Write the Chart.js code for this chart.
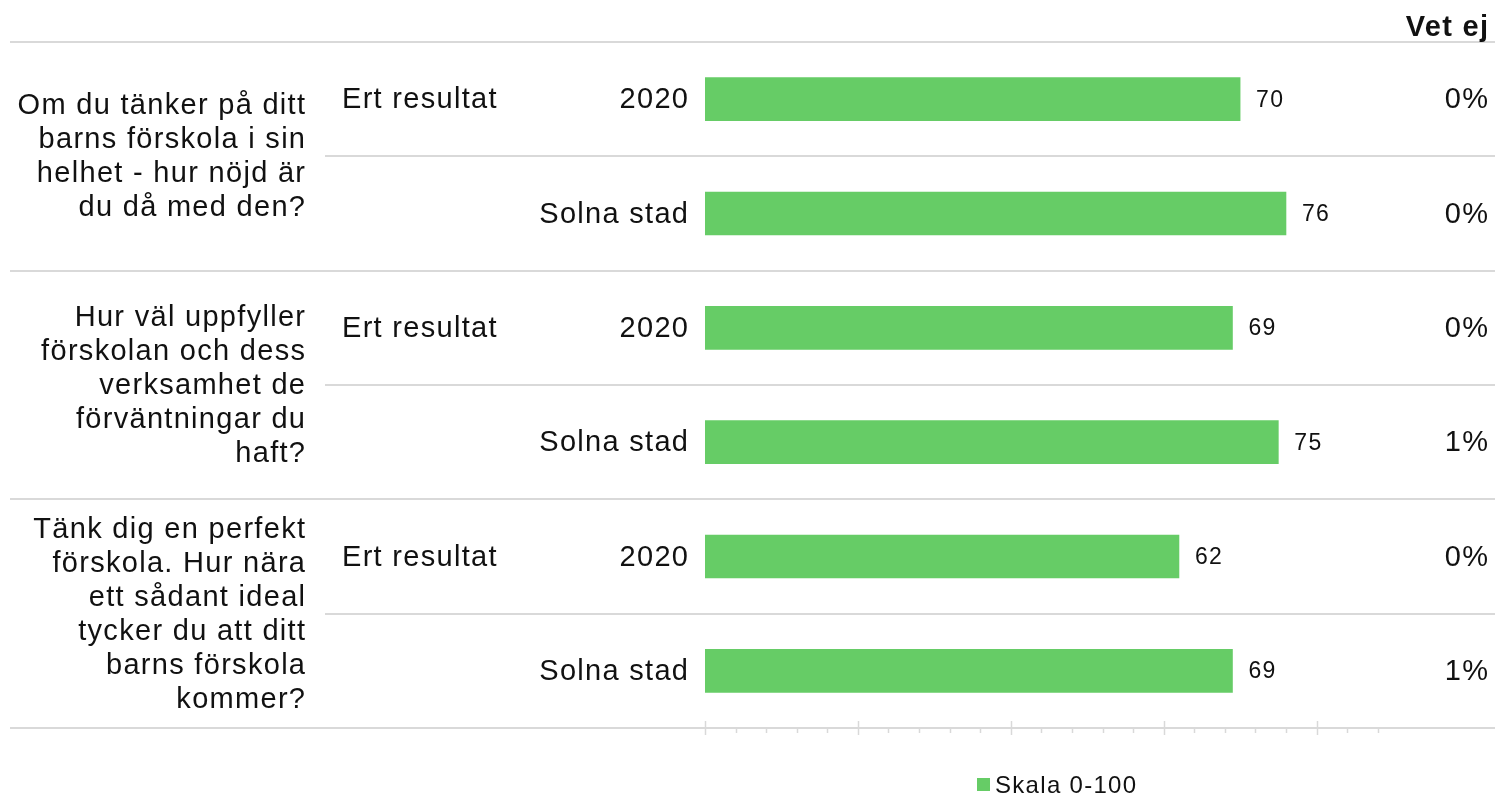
<!DOCTYPE html>
<html>
<head>
<meta charset="utf-8">
<script src="https://cdn.jsdelivr.net/npm/chart.js@4/dist/chart.umd.min.js"></script>
<style>
  html, body { margin: 0; padding: 0; background: #fff; }
  #wrap { width: 1495px; height: 793px; position: relative; }
</style>
</head>
<body>
<div id="wrap"><canvas id="chart"></canvas></div>
<script>
// Data
const questionLines = [
    ['Om du tänker på ditt', 'barns förskola i sin', 'helhet - hur nöjd är', 'du då med den?'],
    ['Hur väl uppfyller', 'förskolan och dess', 'verksamhet de', 'förväntningar du', 'haft?'],
    ['Tänk dig en perfekt', 'förskola. Hur nära', 'ett sådant ideal', 'tycker du att ditt', 'barns förskola', 'kommer?']
];
const groupLabel = 'Ert resultat';
const rowLabels = ['2020', 'Solna stad', '2020', 'Solna stad', '2020', 'Solna stad'];
const scores = [70, 76, 69, 75, 62, 69];
const vetEj = ['0%', '0%', '0%', '1%', '0%', '1%'];
const seriesName = 'Skala 0-100';
const headerRight = 'Vet ej';

const FONT = '"Liberation Sans", Arial, sans-serif';
const GREEN = '#66CC66';
const TEXT = '#111111';
const LINE = '#d9d9d9';
const SP = 1.3; // the reference text is spaced out a little

// text helper: right aligned text must be nudged by the trailing spacing
function text(ctx, str, x, y, align, font) {
    ctx.font = font;
    ctx.letterSpacing = SP + 'px';
    ctx.textAlign = align;
    ctx.fillText(str, align === 'right' ? x + SP : x, y);
}

const overlay = {
    id: 'overlay',
    beforeDatasetsDraw(chart) {
        const ctx = chart.ctx;
        const y = chart.scales.y, x = chart.scales.x;
        const half = (y.getPixelForValue(1) - y.getPixelForValue(0)) / 2;
        ctx.save();
        ctx.strokeStyle = LINE;
        ctx.lineWidth = 2;
        // row separators: full width between groups, partial inside a group
        for (let i = 0; i <= scores.length; i++) {
            const yy = Math.round(y.getPixelForValue(i) - half);
            const x0 = (i % 2 === 0) ? 10 : 325;
            ctx.beginPath();
            ctx.moveTo(x0, yy);
            ctx.lineTo(1495, yy);
            ctx.stroke();
        }
        // axis ticks
        const base = Math.round(y.getPixelForValue(scores.length) - half);
        ctx.lineWidth = 1.5;
        for (let v = 0; v <= 88; v += 4) {
            const xx = Math.round(x.getPixelForValue(v)) + 0.5;
            const major = v % 20 === 0;
            ctx.beginPath();
            ctx.moveTo(xx, major ? base - 7 : base);
            ctx.lineTo(xx, major ? base + 7 : base + 5);
            ctx.stroke();
        }
        ctx.restore();
    },
    afterDatasetsDraw(chart) {
        const ctx = chart.ctx;
        const y = chart.scales.y, x = chart.scales.x;
        ctx.save();
        ctx.fillStyle = TEXT;
        ctx.textBaseline = 'middle';

        text(ctx, headerRight, 1488, 28, 'right', 'bold 29px ' + FONT);

        questionLines.forEach((lines, g) => {
            const cy = (y.getPixelForValue(g * 2) + y.getPixelForValue(g * 2 + 1)) / 2;
            const lh = 34;
            const top = cy - (lines.length - 1) * lh / 2;
            lines.forEach((ln, k) => text(ctx, ln, 305, top + k * lh + 1, 'right', '29px ' + FONT));
            text(ctx, groupLabel, 342, y.getPixelForValue(g * 2) + 1, 'left', '29px ' + FONT);
        });

        scores.forEach((v, i) => {
            const cy = y.getPixelForValue(i) + 1;
            text(ctx, rowLabels[i], 688, cy, 'right', '29px ' + FONT);
            text(ctx, vetEj[i], 1488, cy, 'right', '29px ' + FONT);
            text(ctx, String(v), x.getPixelForValue(v) + 16, cy, 'left', '23px ' + FONT);
        });

        // legend
        ctx.fillStyle = GREEN;
        ctx.fillRect(977, 778, 13, 13);
        ctx.fillStyle = TEXT;
        text(ctx, seriesName, 995, 786, 'left', '24px ' + FONT);
        ctx.restore();
    }
};

new Chart(document.getElementById('chart'), {
    type: 'bar',
    data: {
        labels: rowLabels,
        datasets: [{
            label: seriesName,
            data: scores,
            backgroundColor: GREEN,
            borderWidth: 0,
            barThickness: 43
        }]
    },
    options: {
        indexAxis: 'y',
        responsive: true,
        maintainAspectRatio: false,
        animation: false,
        layout: { padding: { left: 705, right: 102, top: 42, bottom: 65 } },
        plugins: { legend: { display: false }, tooltip: { enabled: false } },
        scales: {
            x: { display: false, min: 0, max: 90 },
            y: { display: false, offset: true }
        }
    },
    plugins: [overlay]
});
</script>
</body>
</html>
